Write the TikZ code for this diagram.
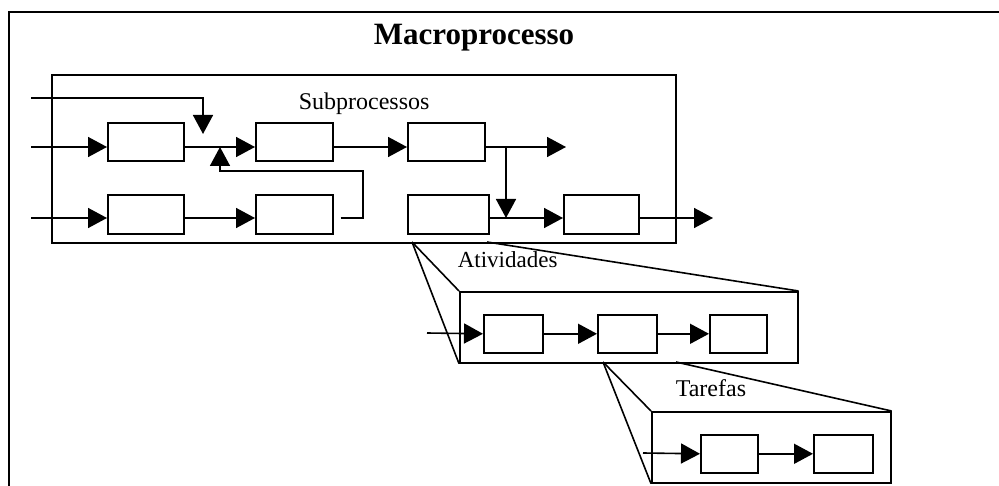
\documentclass[tikz,border=0pt]{standalone}
\usepackage{fontspec}
\setmainfont{Liberation Serif}
\usetikzlibrary{arrows.meta}
\begin{document}
\begin{tikzpicture}[x=1pt, y=-1pt,
  line width=1.6pt,
  box/.style={draw, rectangle, inner sep=0pt, anchor=north west},
  arr/.style={-{Triangle[length=19pt, width=20pt]}},
  lbl/.style={inner sep=0pt, anchor=base west, font=\fontsize{24}{28}\selectfont}]
\useasboundingbox (0,0) rectangle (999,486);
\clip (0,0) rectangle (999,486);

% outer frame (continues past the page on the right and bottom)
\draw[line width=1.9pt] (9,12) rectangle (1020,510);
\node[inner sep=0pt, anchor=base, font=\bfseries\fontsize{31}{36}\selectfont] (title) at (474,45) {Macroprocesso};

% subprocess level
\node[box, minimum width=624, minimum height=168] (sub) at (51,74) {};
\node[lbl] (sublbl) at (298,110) {Subprocessos};

\node[box, minimum width=76, minimum height=38] (p11) at (107,122) {};
\node[box, minimum width=77, minimum height=38] (p12) at (255,122) {};
\node[box, minimum width=77, minimum height=38] (p13) at (407,122) {};
\node[box, minimum width=76, minimum height=39] (p21) at (107,194) {};
\node[box, minimum width=77, minimum height=39] (p22) at (255,194) {};
\node[box, minimum width=81, minimum height=39] (p23) at (407,194) {};
\node[box, minimum width=75, minimum height=39] (p24) at (563,194) {};

\coordinate (in0) at (31,98);
\coordinate (j0) at (203,134);
\coordinate (in1) at (31,147);
\coordinate (in2) at (31,218);
\coordinate (out1) at (566,147);
\coordinate (out2) at (713,218);
\coordinate (br) at (506,147);
\coordinate (fbc) at (363,171);
\coordinate (fbtip) at (220,147);

\draw[arr] (in0) -| (j0);
\draw[arr] (in1) -- (p11.west |- in1);
\draw[arr] (p11.east |- in1) -- (p12.west |- in1);
\draw[arr] (p12.east |- in1) -- (p13.west |- in1);
\draw[arr] (p13.east |- in1) -- (out1);
\draw[arr] (br) -- (br |- in2);
\draw[arr] (in2) -- (p21.west |- in2);
\draw[arr] (p21.east |- in2) -- (p22.west |- in2);
\draw[arr] ([xshift=7pt]p22.east |- in2) -| (fbc) -| (fbtip);
\draw[arr] (p23.east |- in2) -- (p24.west |- in2);
\draw[arr] (p24.east |- in2) -- (out2);

% activity level
\coordinate (z1) at (412,242);
\coordinate (z2) at (487,242);
\node[box, minimum width=338, minimum height=71] (ativ) at (459,291) {};
\draw (z1) -- (ativ.north west);
\draw (z1) -- (ativ.south west);
\draw (z2) -- (ativ.north east);
\node[lbl, font=\fontsize{23}{27}\selectfont] (ativlbl) at (457,268) {Atividades};

\node[box, minimum width=59, minimum height=38] (a1) at (483,314) {};
\node[box, minimum width=59, minimum height=38] (a2) at (597,314) {};
\node[box, minimum width=57, minimum height=38] (a3) at (709,314) {};
\coordinate (ain) at (427,333);
\draw[arr] (ain) -- (a1.west);
\draw[arr] (a1.east) -- (a2.west);
\draw[arr] (a2.east) -- (a3.west);

% task level
\coordinate (z3) at (603,362);
\coordinate (z4) at (676,362);
\node[box, minimum width=239, minimum height=71] (tar) at (651,411) {};
\draw (z3) -- (tar.north west);
\draw (z3) -- (tar.south west);
\draw (z4) -- (tar.north east);
\node[lbl] (tarlbl) at (675,396) {Tarefas};

\node[box, minimum width=57, minimum height=38] (t1) at (700,434) {};
\node[box, minimum width=59, minimum height=38] (t2) at (813,434) {};
\coordinate (tin) at (643,453);
\draw[arr] (tin) -- (t1.west);
\draw[arr] (t1.east) -- (t2.west);
\end{tikzpicture}
\end{document}
